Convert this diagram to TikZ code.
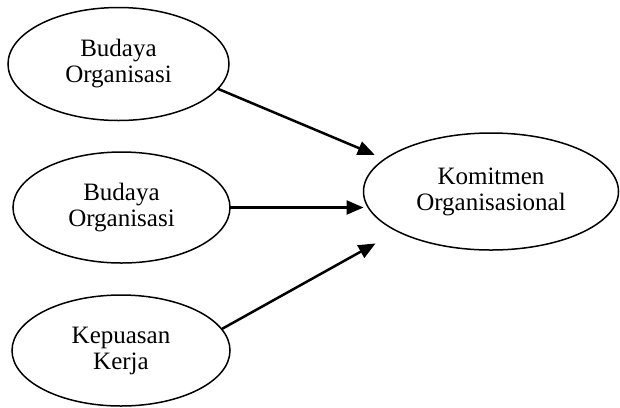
\documentclass[tikz,border=0pt]{standalone}
\usepackage{fontspec}
\setmainfont{Liberation Serif}
\usetikzlibrary{shapes.geometric,arrows.meta}
\begin{document}
\begin{tikzpicture}[x=1bp,y=-1bp,
  var/.style={draw=black, line width=1.5bp, ellipse, inner sep=0pt, outer sep=0pt,
    align=center, font=\fontsize{25bp}{26bp}\selectfont},
  link/.style={line width=2.5bp, -{Triangle[length=17bp,width=14bp]}}]
\useasboundingbox (0,0) rectangle (620,407);
\node[var, minimum width=221bp, minimum height=113bp] (a) at (118.5,64) {Budaya\\Organisasi};
\node[var, minimum width=217bp, minimum height=111bp] (b) at (121.5,207.5) {Budaya\\Organisasi};
\node[var, minimum width=218bp, minimum height=111bp] (c) at (121,350.5) {Kepuasan\\Kerja};
\node[var, minimum width=255bp, minimum height=117bp] (d) at (491,191.5) {Komitmen\\Organisasional};
\draw[link, shorten >=11bp] (a.-14) -- (d.163);
\draw[link] (b.east) -- (b.east -| d.west);
\draw[link, shorten >=25bp] (c.12) -- (d.203);
\end{tikzpicture}
\end{document}
